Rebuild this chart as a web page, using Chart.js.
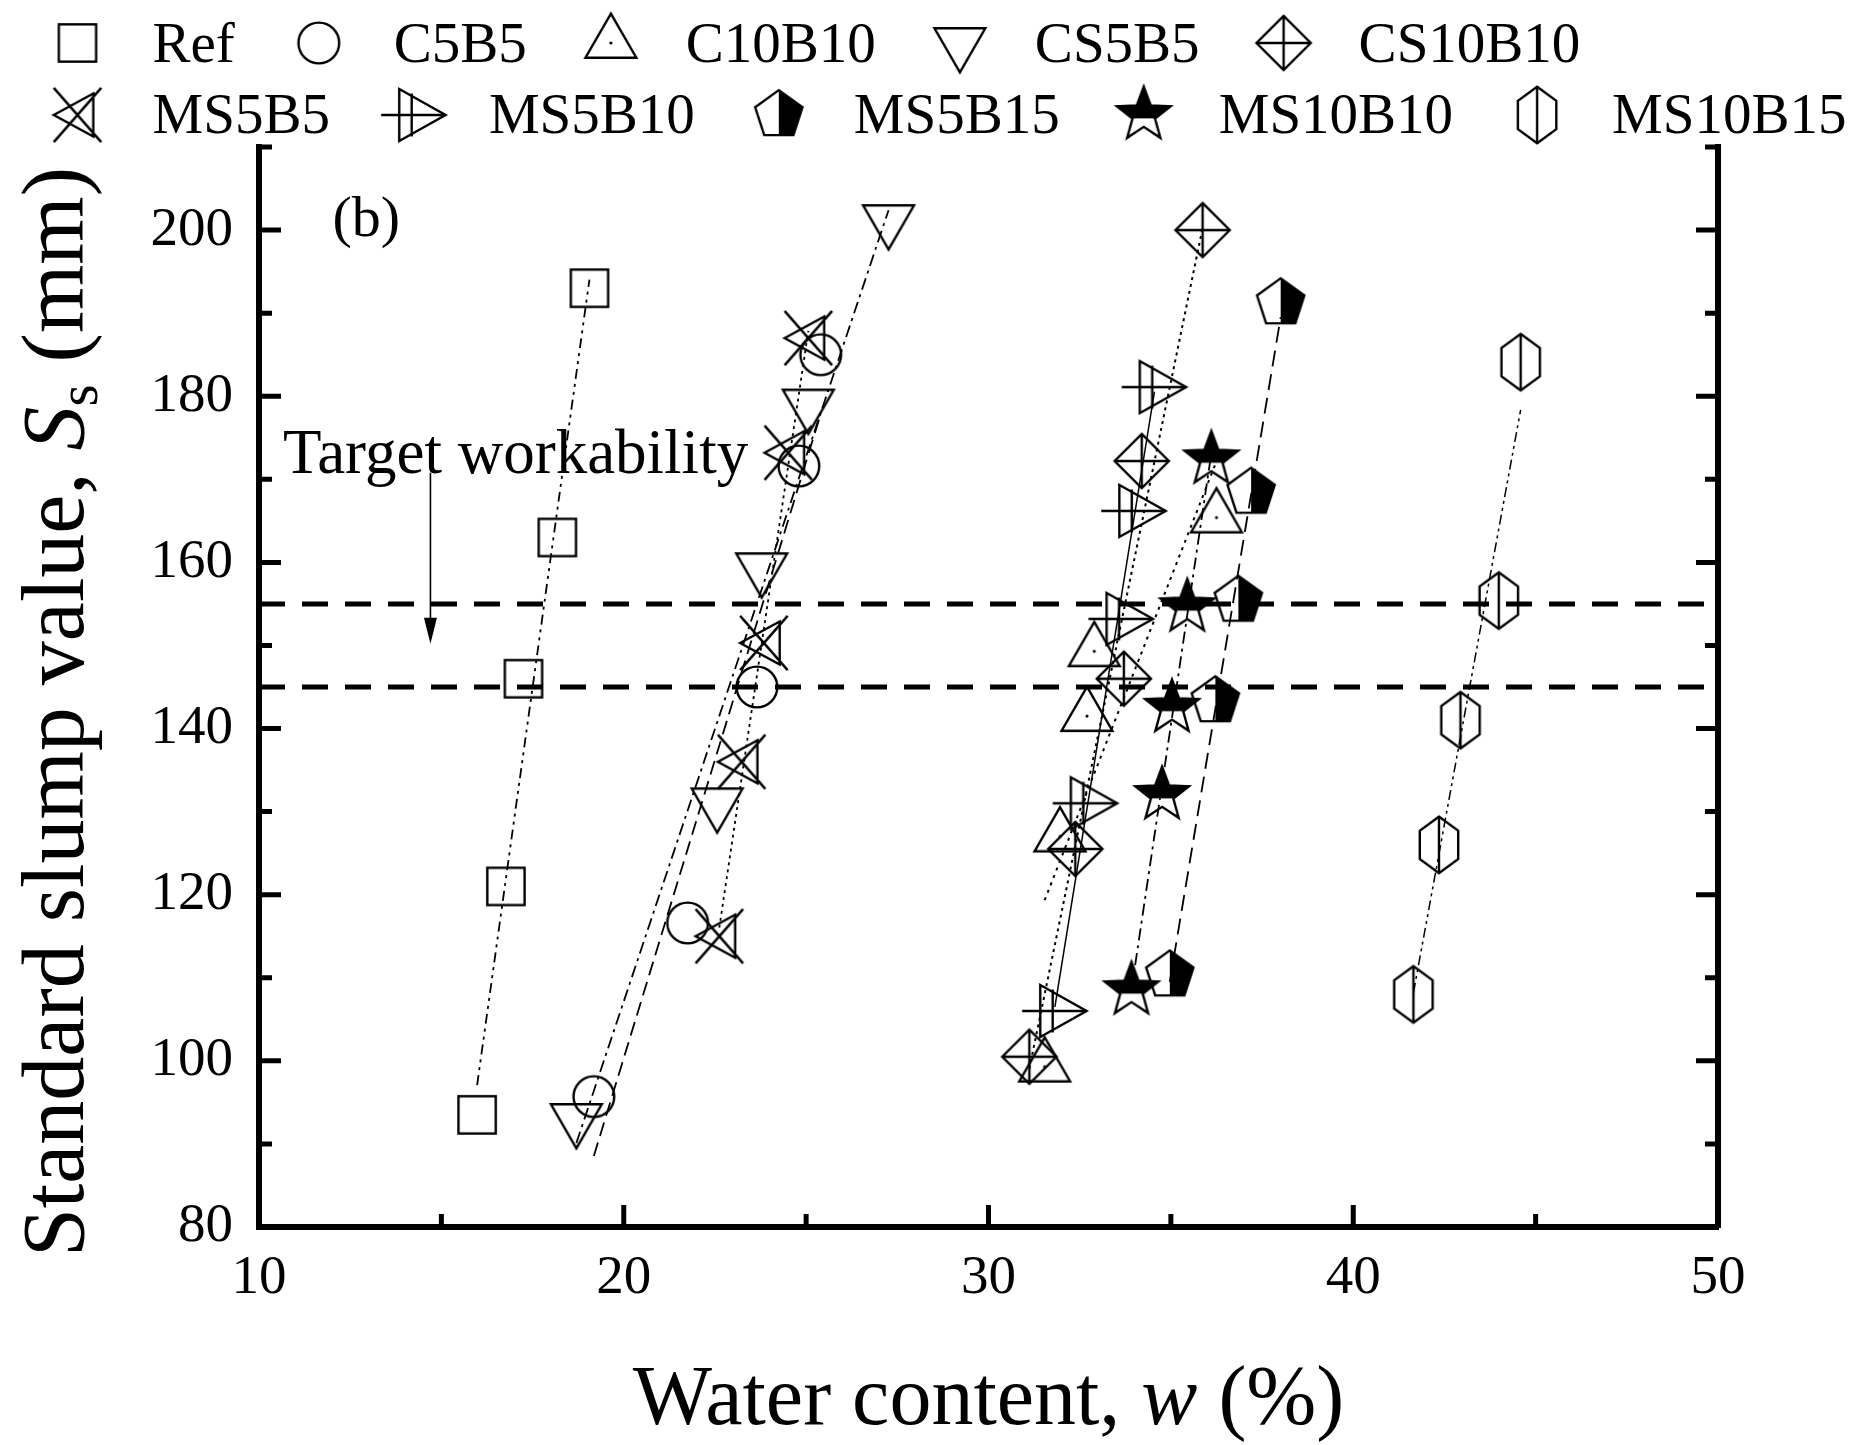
<!DOCTYPE html>
<html><head><meta charset="utf-8">
<script src="https://cdn.jsdelivr.net/npm/chart.js@4.4.0/dist/chart.umd.min.js"></script>
<style>html,body{margin:0;padding:0;background:#fff;}#wrap{width:1870px;height:1445px;position:relative;}</style>
</head><body><div id="wrap"><canvas id="c"></canvas></div>
<script>
// ---- data ----
const seriesNames = ['Ref','C5B5','C10B10','CS5B5','CS10B10','MS5B5','MS5B10','MS5B15','MS10B10','MS10B15'];
const refW = [15.98, 16.77, 17.25, 18.18, 19.06];
const refS = [93.5, 121.0, 146.0, 163.0, 193.0];
const c5b5W = [19.18, 21.75, 23.65, 24.80, 25.40];
const c5b5S = [95.7, 116.6, 145.0, 171.6, 185.0];
const c10b10W = [31.54, 31.96, 32.70, 32.90, 36.25];
const c10b10S = [99.3, 127.0, 141.5, 149.3, 165.4];
const cs5b5W = [18.70, 22.56, 23.78, 25.06, 27.26];
const cs5b5S = [93.0, 131.0, 159.3, 179.0, 201.2];
const cs10b10W = [31.12, 32.38, 33.71, 34.20, 35.87];
const cs10b10S = [100.5, 125.5, 146.0, 172.2, 200.0];
const ms5b5W = [22.62, 23.23, 23.84, 24.51, 25.06];
const ms5b5S = [115.0, 136.0, 150.3, 173.2, 187.0];
const ms5b10W = [31.82, 32.66, 33.64, 33.99, 34.55];
const ms5b10S = [106.0, 131.0, 153.2, 166.2, 181.1];
const ms5b15W = [34.97, 36.22, 36.85, 37.20, 38.01];
const ms5b15S = [110.3, 143.3, 155.4, 168.4, 191.2];
const ms10b10W = [33.92, 34.76, 35.03, 35.45, 36.11];
const ms10b10S = [108.5, 132.0, 142.5, 154.6, 172.4];
const ms10b15W = [41.65, 42.35, 42.94, 43.99, 44.59];
const ms10b15S = [108.0, 126.0, 141.0, 155.4, 184.1];

const xTicks = [10, 20, 30, 40, 50];
const yTicks = [80, 100, 120, 140, 160, 180, 200];
const xRange = [10, 50];
const yRange = [80, 210];
const xMinorStep = 5;
const yMinorStep = 10;
const targetBand = [145, 155];
const targetArrow = [14.7, 170.8, 150.2];   // w, from S, to S
const panelLabelAt = [12.94, 201.1];
const targetLabelAt = [10.66, 170.8];

// ---- marker glyphs ----
const GS = 1.13;
function mk(draw){
  const c = document.createElement('canvas'); c.width = 74; c.height = 74;
  const g = c.getContext('2d'); g.translate(37,37); g.scale(GS, GS);
  g.lineWidth = 2.4/GS; g.strokeStyle = '#000'; g.fillStyle = '#000'; g.lineJoin = 'miter';
  draw(g); return c;
}
function poly(g, pts){ g.beginPath(); g.moveTo(pts[0][0],pts[0][1]); for (let i=1;i<pts.length;i++) g.lineTo(pts[i][0],pts[i][1]); g.closePath(); }
function seg(g, x1,y1,x2,y2){ g.beginPath(); g.moveTo(x1,y1); g.lineTo(x2,y2); g.stroke(); }
const glyph = {
  square: mk(g=>{ g.strokeRect(-16.5,-16.5,33,33); }),
  circle: mk(g=>{ g.beginPath(); g.arc(0,0,18,0,Math.PI*2); g.stroke(); }),
  triDot: mk(g=>{ poly(g,[[0,-26],[22.5,13],[-22.5,13]]); g.stroke(); g.beginPath(); g.arc(0,0,1.4,0,Math.PI*2); g.fill(); }),
  triDown: mk(g=>{ poly(g,[[0,26],[22.5,-13],[-22.5,-13]]); g.stroke(); }),
  diamondPlus: mk(g=>{ poly(g,[[0,-24],[24,0],[0,24],[-24,0]]); g.stroke(); seg(g,-24,0,24,0); seg(g,0,-24,0,24); }),
  crossTri: mk(g=>{ seg(g,-21,-24,21,24); seg(g,-21,24,21,-24); poly(g,[[-21,0],[14,-19],[14,19]]); g.stroke(); }),
  triPlus: mk(g=>{ poly(g,[[-13,-23],[28,0],[-13,23]]); g.stroke(); seg(g,-29,0,28,0); seg(g,-2,-19,-2,19); }),
  halfPent: mk(g=>{
    const pts=[]; for(let k=0;k<5;k++){ const a=-Math.PI/2+k*2*Math.PI/5; pts.push([22*Math.cos(a),22*Math.sin(a)]); }
    g.save(); poly(g,pts); g.clip(); g.fillRect(0,-30,30,60); g.restore(); poly(g,pts); g.stroke(); }),
  halfStar: mk(g=>{
    const pts=[]; for(let k=0;k<10;k++){ const a=-Math.PI/2+k*Math.PI/5; const r=k%2?10.5:25; pts.push([r*Math.cos(a),r*Math.sin(a)]); }
    g.save(); poly(g,pts); g.clip(); g.fillRect(-30,-30,60,33); g.restore(); poly(g,pts); g.stroke(); }),
  hexLine: mk(g=>{ poly(g,[[0,-25],[17,-12.5],[17,12.5],[0,25],[-17,12.5],[-17,-12.5]]); g.stroke(); seg(g,0,-25,0,25); })
};

const series = [
  {name:'Ref',     w:refW,     s:refS,     glyph:'square',      dash:[10,5,3,5,3,5], lw:1.8},
  {name:'C5B5',    w:c5b5W,    s:c5b5S,    glyph:'circle',      dash:[14,7],         lw:1.8},
  {name:'C10B10',  w:c10b10W,  s:c10b10S,  glyph:'triDot',      dash:[3,5],          lw:2},
  {name:'CS5B5',   w:cs5b5W,   s:cs5b5S,   glyph:'triDown',     dash:[12,5,3,5],     lw:1.8},
  {name:'CS10B10', w:cs10b10W, s:cs10b10S, glyph:'diamondPlus', dash:[3,4],          lw:2},
  {name:'MS5B5',   w:ms5b5W,   s:ms5b5S,   glyph:'crossTri',    dash:[3,4],          lw:1.8},
  {name:'MS5B10',  w:ms5b10W,  s:ms5b10S,  glyph:'triPlus',     dash:[],             lw:1.5},
  {name:'MS5B15',  w:ms5b15W,  s:ms5b15S,  glyph:'halfPent',    dash:[16,8],         lw:1.8},
  {name:'MS10B10', w:ms10b10W, s:ms10b10S, glyph:'halfStar',    dash:[12,5,3,5],     lw:1.8},
  {name:'MS10B15', w:ms10b15W, s:ms10b15S, glyph:'hexLine',     dash:[10,4,3,4,3,4], lw:1.5}
];

function fitLine(xs, ys){
  const n = xs.length;
  const mx = xs.reduce((a,b)=>a+b,0)/n, my = ys.reduce((a,b)=>a+b,0)/n;
  let sxy=0, sxx=0;
  for (let i=0;i<n;i++){ sxy += (xs[i]-mx)*(ys[i]-my); sxx += (xs[i]-mx)*(xs[i]-mx); }
  const b = sxy/sxx, a = my - b*mx;
  const x0 = Math.min(...xs), x1 = Math.max(...xs);
  return [{x:x0, y:a+b*x0}, {x:x1, y:a+b*x1}];
}

const datasets = [];
series.forEach(sr=>{
  datasets.push({type:'scatter', label:sr.name, data: sr.w.map((w,i)=>({x:w, y:sr.s[i]})),
    pointStyle: glyph[sr.glyph], pointRadius: 20, showLine:false, order:1});
});
series.forEach(sr=>{
  datasets.push({type:'line', label:sr.name+' fit', data: fitLine(sr.w, sr.s), borderColor:'#000',
    borderWidth: sr.lw, borderDash: sr.dash, pointRadius:0, fill:false, tension:0, order:2});
});
targetBand.forEach(v=>{
  datasets.push({type:'line', label:'target '+v, data:[{x:xRange[0], y:v},{x:xRange[1], y:v}], borderColor:'#000',
    borderWidth:5, borderDash:[26,17], pointRadius:0, fill:false, order:3});
});

const SERIF = '"Liberation Serif", "Times New Roman", serif';
const F = (px)=> px+'px '+SERIF;
const FI = (px)=> 'italic '+px+'px '+SERIF;

const decor = {
  id:'decor',
  afterDraw(chart){
    const ctx = chart.ctx, x = chart.scales.x, y = chart.scales.y;
    const L = chart.chartArea.left, R = chart.chartArea.right, B = chart.chartArea.bottom;
    ctx.save();
    ctx.strokeStyle = '#000'; ctx.fillStyle = '#000'; ctx.lineWidth = 5;
    // inward ticks
    ctx.beginPath();
    for (let v=yRange[0]+yMinorStep; v<=yRange[1]; v+=yMinorStep){
      const py = y.getPixelForValue(v);
      const len = ((v-yTicks[0]) % (yTicks[1]-yTicks[0]) === 0) ? 22 : 13;
      ctx.moveTo(L, py); ctx.lineTo(L+len, py);
      ctx.moveTo(R, py); ctx.lineTo(R-len, py);
    }
    for (let v=xRange[0]+xMinorStep; v<xRange[1]; v+=xMinorStep){
      const px = x.getPixelForValue(v);
      const len = ((v-xTicks[0]) % (xTicks[1]-xTicks[0]) === 0) ? 22 : 13;
      ctx.moveTo(px, B); ctx.lineTo(px, B-len);
    }
    ctx.stroke();

    // arrow
    const ax = x.getPixelForValue(targetArrow[0]);
    const ay0 = y.getPixelForValue(targetArrow[1]), ay1 = y.getPixelForValue(targetArrow[2]);
    ctx.lineWidth = 1.6;
    ctx.beginPath(); ctx.moveTo(ax, ay0); ctx.lineTo(ax, ay1-22); ctx.stroke();
    ctx.beginPath(); ctx.moveTo(ax-6.5, ay1-26); ctx.lineTo(ax+6.5, ay1-26); ctx.lineTo(ax, ay1); ctx.closePath(); ctx.fill();

    // text annotations
    ctx.textBaseline = 'middle'; ctx.textAlign = 'center';
    ctx.font = F(58);
    ctx.fillText('(b)', x.getPixelForValue(panelLabelAt[0]), y.getPixelForValue(panelLabelAt[1]));
    ctx.textBaseline = 'alphabetic'; ctx.textAlign = 'left';
    ctx.font = F(63);
    ctx.fillText('Target workability', x.getPixelForValue(targetLabelAt[0]), y.getPixelForValue(targetLabelAt[1]));

    // x title
    const xParts = [{t:'Water content, ', f:F(84)}, {t:'w', f:FI(84)}, {t:' (%)', f:F(84)}];
    let tot = 0; xParts.forEach(p=>{ ctx.font=p.f; p.w = ctx.measureText(p.t).width; tot += p.w; });
    let cx = (L+R)/2 - tot/2;
    xParts.forEach(p=>{ ctx.font=p.f; ctx.fillText(p.t, cx, 1424); cx += p.w; });

    // y title
    ctx.save(); ctx.translate(83, 712); ctx.rotate(-Math.PI/2);
    const yParts = [{t:'Standard slump value, ', f:F(88), dy:0}, {t:'S', f:FI(88), dy:0}, {t:'s', f:F(57), dy:14}, {t:' (mm)', f:F(88), dy:0}];
    tot = 0; yParts.forEach(p=>{ ctx.font=p.f; p.w = ctx.measureText(p.t).width; tot += p.w; });
    cx = -tot/2;
    yParts.forEach(p=>{ ctx.font=p.f; ctx.fillText(p.t, cx, p.dy); cx += p.w; });
    ctx.restore();

    // legend (two rows)
    const rows = [seriesNames.slice(0,5), seriesNames.slice(5)];
    const rowMarkY = [43, 115], rowBase = [62, 133];
    ctx.font = F(57); ctx.textAlign = 'left'; ctx.textBaseline = 'alphabetic';
    rows.forEach((row, r)=>{
      let mx = 77.5;
      row.forEach(name=>{
        const sr = series.find(s=>s.name===name);
        const gl = glyph[sr.glyph];
        ctx.drawImage(gl, mx - gl.width/2, rowMarkY[r] - gl.height/2);
        const tx = mx + 75;
        ctx.fillText(name, tx, rowBase[r]);
        mx = tx + ctx.measureText(name).width + 84;
      });
    });
    ctx.restore();
  }
};

function build(){
  new Chart(document.getElementById('c'), {
    type:'scatter',
    data:{datasets},
    options:{
      responsive:true, maintainAspectRatio:false, animation:false, events:[],
      layout:{padding:{top:147, left:0, right:0, bottom:0}},
      plugins:{legend:{display:false}, tooltip:{enabled:false}, title:{display:false}},
      scales:{
        x:{type:'linear', position:'bottom', min:xRange[0], max:xRange[1],
           afterBuildTicks:s=>{ s.ticks = xTicks.map(v=>({value:v})); },
           afterFit:s=>{ s.height = 218; },
           grid:{display:false, drawTicks:false},
           border:{display:true, width:6, color:'#000'},
           ticks:{font:{family:'"Liberation Serif"', size:55}, color:'#000', padding:19, maxRotation:0, autoSkip:false}},
        y:{type:'linear', position:'left', min:yRange[0], max:yRange[1],
           afterBuildTicks:s=>{ s.ticks = yTicks.map(v=>({value:v})); },
           afterFit:s=>{ s.width = 259; },
           grid:{display:false, drawTicks:false},
           border:{display:true, width:6, color:'#000'},
           ticks:{font:{family:'"Liberation Serif"', size:55}, color:'#000', padding:26, autoSkip:false}},
        y2:{type:'linear', position:'right', min:yRange[0], max:yRange[1],
           afterFit:s=>{ s.width = 152; },
           grid:{display:false, drawTicks:false},
           border:{display:true, width:6, color:'#000'},
           ticks:{display:false}}
      }
    },
    plugins:[decor]
  });
}
if (document.fonts && document.fonts.load){
  Promise.all([document.fonts.load('57px "Liberation Serif"'), document.fonts.load('italic 83px "Liberation Serif"')]).then(build, build);
} else build();
</script>
</body></html>
